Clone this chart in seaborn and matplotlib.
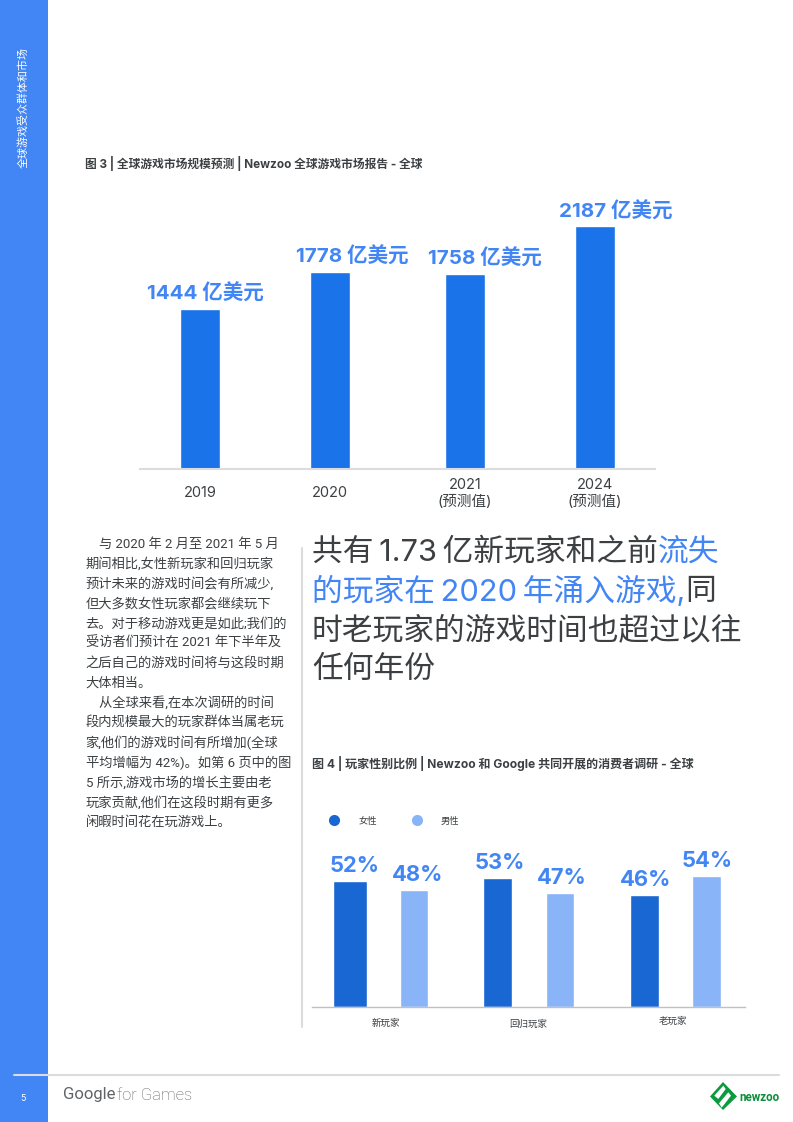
import pandas as pd
import matplotlib.pyplot as plt
import matplotlib.patches as mpatches
from matplotlib.lines import Line2D
from matplotlib.transforms import ScaledTranslation
import seaborn as sns

# chart data
years = ['2019', '2020', '2021\n(预测值)', '2024\n(预测值)']
market_size = [1444, 1778, 1758, 2187]
market_labels = ['1444 亿美元', '1778 亿美元', '1758 亿美元', '2187 亿美元']
market_shift = [5.5, 20.5, 21.5, 20.5]
bar_shift = [0, -1.7, 1.7, 0]

player_types = ['新玩家', '回归玩家', '老玩家']
female = [52, 53, 46]
male = [48, 47, 54]
type_shift_x = [5, 0, -2.5]
type_shift_y = [1, 0, 3]
male_bar_shift = [2, 1, 0]
label_shift = [[4, 2, 1], [4, 2, 1]]

# page text
side_title = '全球游戏受众群体和市场'
fig3_title = '图 3 | 全球游戏市场规模预测 | Newzoo 全球游戏市场报告 - 全球'
fig4_title = '图 4 | 玩家性别比例 | Newzoo 和 Google 共同开展的消费者调研 - 全球'
body_lines = [
    '    与 2020 年 2 月至 2021 年 5 月',
    '期间相比,女性新玩家和回归玩家',
    '预计未来的游戏时间会有所减少,',
    '但大多数女性玩家都会继续玩下',
    '去。对于移动游戏更是如此;我们的',
    '受访者们预计在 2021 年下半年及',
    '之后自己的游戏时间将与这段时期',
    '大体相当。',
    '    从全球来看,在本次调研的时间',
    '段内规模最大的玩家群体当属老玩',
    '家,他们的游戏时间有所增加(全球',
    '平均增幅为 42%)。如第 6 页中的图',
    '5 所示,游戏市场的增长主要由老',
    '玩家贡献,他们在这段时期有更多',
    '闲暇时间花在玩游戏上。',
]
head_lines = [
    [('共有\u20091.73\u2009亿新玩家和之前', 'dark'), ('流失', 'blue')],
    [('的玩家在\u20092020\u2009年涌入游戏,', 'blue'), ('同', 'dark')],
    [('时老玩家的游戏时间也超过以往', 'dark')],
    [('任何年份', 'dark')],
]

BLUE = '#4285f4'
DARK = '#3c4043'
GRID = '#dadce0'
W, H = 793, 1122

sns.set_theme(style='white')
plt.rcParams['font.family'] = ['Inter', 'Noto Sans CJK SC']
plt.rcParams['axes.unicode_minus'] = False

fig = plt.figure(figsize=(W / 100, H / 100), dpi=100, facecolor='white')


def px_axes(left, top, right, bottom):
    a = fig.add_axes([left / W, 1 - bottom / H, (right - left) / W, (bottom - top) / H])
    a.patch.set_alpha(0)
    return a


# page furniture, in pixel coordinates
page = px_axes(0, 0, W, H)
page.set_xlim(0, W)
page.set_ylim(H, 0)
page.axis('off')
page.add_patch(mpatches.Rectangle((0, 0), 48, H, color=BLUE, lw=0))
page.plot([14, 779], [1074.5, 1074.5], color=GRID, lw=1.5)
page.plot([302, 302], [548, 1027], color=GRID, lw=1.5)
page.text(23.5, 107, side_title, color='white', fontsize=7.9, rotation=90, ha='center', va='center')
page.text(23, 1098.5, '5', color='white', fontsize=6.5, ha='center', va='center')
page.text(85, 163.5, fig3_title, color=DARK, fontsize=8.45, weight='bold', va='center')
page.text(312.5, 763.5, fig4_title, color=DARK, fontsize=8.65, weight='bold', va='center')
page.text(63, 1095, 'Google', color='#5f6368', fontsize=12, va='center', family='Roboto')
page.text(117, 1095.5, 'for Games', color='#5f6368', fontsize=11.9, va='center', weight='light', family='Roboto')

for i, line in enumerate(body_lines):
    page.text(85.5, 544 + i * 19.92, line, color=DARK, fontsize=9.55, va='center',
              family=['Roboto', 'Noto Sans CJK SC'])

renderer = fig.canvas.get_renderer()
for i, parts in enumerate(head_lines):
    x = 312
    for txt, col in parts:
        t = page.text(x, 552.5 + i * 39, txt, fontsize=22.15, va='center',
                      color=BLUE if col == 'blue' else DARK)
        x = t.get_window_extent(renderer).x1

# newzoo logo
page.add_patch(mpatches.Polygon([(723, 1082), (737, 1096.5), (723, 1110), (710, 1096.5)], color='#0b9a3e', lw=0))
page.add_patch(mpatches.Polygon([(714.3, 1095.7), (723.3, 1085.7), (725.7, 1089), (718.3, 1099)], color='white', lw=0))
page.add_patch(mpatches.Polygon([(719, 1103.3), (728.3, 1092.3), (731, 1095.7), (721.7, 1107.7)], color='white', lw=0))
page.text(739, 1097.5, 'newzoo', color='#0b8f3a', fontsize=8.4, weight='bold', va='center', family='Roboto')

# figure 3
df3 = pd.DataFrame({'year': years, 'size': market_size})
ax1 = px_axes(140, 190, 655, 469)
sns.barplot(data=df3, x='year', y='size', color='#1a73e8', saturation=1, width=0.304, ax=ax1)
ax1.set_xlim(-0.456, 3.456)
ax1.set_ylim(0, 279 / 0.111)
ax1.set_xlabel('')
ax1.set_ylabel('')
ax1.set_yticks([])
sns.despine(ax=ax1, left=True)
ax1.spines['bottom'].set_color(GRID)
ax1.spines['bottom'].set_linewidth(1.5)
ax1.tick_params(axis='x', length=0, pad=17.5, labelsize=10.5, labelcolor=DARK)
for i, lab in enumerate(ax1.get_xticklabels()):
    lab.set_verticalalignment('center')
    lab.set_linespacing(1.25)
    lab.set_transform(lab.get_transform() + ScaledTranslation(bar_shift[i] / 100, 0, fig.dpi_scale_trans))
px_unit = 131.67
for i, v in enumerate(market_size):
    bar = ax1.containers[0][i]
    bar.set_x(bar.get_x() + bar_shift[i] / px_unit)
    ax1.annotate(market_labels[i], (i, v), xytext=(market_shift[i] * 0.72, 15 * 0.72),
                 textcoords='offset points', ha='center', va='center',
                 color=BLUE, fontsize=14.8, weight='bold')

# figure 4
df4 = pd.DataFrame({
    'type': player_types * 2,
    'pct': female + male,
    'sex': ['女性'] * 3 + ['男性'] * 3,
})
ax2 = px_axes(312, 827, 745, 1007)
sns.barplot(data=df4, x='type', y='pct', hue='sex', palette=['#1967d2', '#8ab4f8'],
            saturation=1, width=0.838, gap=0.54, legend=False, ax=ax2)
ax2.set_xlim(-0.4686, 2.472)
ax2.set_ylim(0, 180 / 2.43)
ax2.set_xlabel('')
ax2.set_ylabel('')
ax2.set_yticks([])
sns.despine(ax=ax2, left=True)
ax2.spines['bottom'].set_color('#bdc1c6')
ax2.spines['bottom'].set_linewidth(1)
ax2.tick_params(axis='x', length=0, pad=9, labelsize=6.8, labelcolor=DARK)
for i, lab in enumerate(ax2.get_xticklabels()):
    lab.set_transform(lab.get_transform() + ScaledTranslation(type_shift_x[i] / 100, type_shift_y[i] / 100, fig.dpi_scale_trans))

# the first female bar is wider in the original
unit = 147.25
first = ax2.containers[0][0]
first.set_x(first.get_x() - 3 / unit)
first.set_width(first.get_width() + 6 / unit)
for i, bar in enumerate(ax2.containers[1]):
    bar.set_x(bar.get_x() + male_bar_shift[i] / unit)

for k, c in enumerate(ax2.containers):
    for i, lab in enumerate(ax2.bar_label(c, fmt='%d%%', padding=10.8, label_type='edge',
                                          color=BLUE, fontsize=15.8, weight='bold')):
        lab.set_verticalalignment('center')
        lab.xyann = (label_shift[k][i] * 0.72, 10.8)

handles = [Line2D([], [], marker='o', ls='', ms=8, color='#1967d2', mew=0),
           Line2D([], [], marker='o', ls='', ms=8, color='#8ab4f8', mew=0)]
fig.legend(handles, ['女性', '男性'], ncol=2, frameon=False, fontsize=6.7,
           loc='center left', bbox_to_anchor=(325 / W, 1 - 821 / H), borderaxespad=0,
           borderpad=0, handletextpad=1.6, columnspacing=3.25, labelcolor=DARK)

fig.savefig('out.png', dpi=100)
